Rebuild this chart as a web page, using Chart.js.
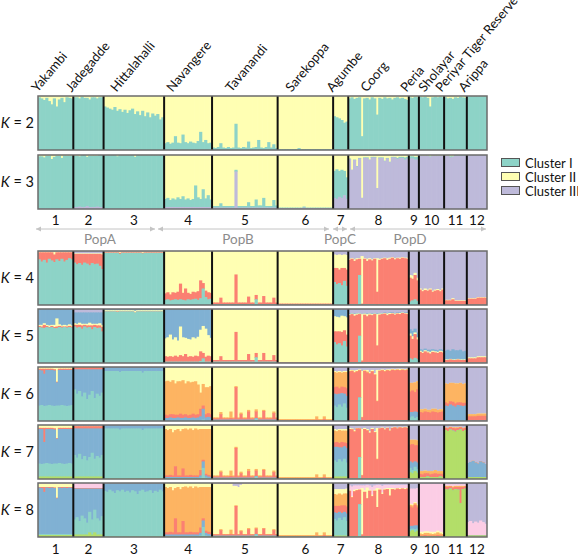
<!DOCTYPE html>
<html><head><meta charset="utf-8">
<script src="https://cdn.jsdelivr.net/npm/chart.js@4.4.1/dist/chart.umd.min.js"></script>
<style>
html,body{margin:0;padding:0;background:#fff;}
#wrap{position:relative;width:578px;height:554px;overflow:hidden;font-family:Lato,"Open Sans",sans-serif;color:#111;}
canvas.panel{position:absolute;left:37px;}
.klab{position:absolute;left:0;width:34px;text-align:right;font-size:14.5px;line-height:16px;white-space:nowrap;}
.pname{position:absolute;font-size:13px;line-height:13px;white-space:nowrap;transform-origin:0 100%;transform:rotate(-50deg);}
.num{position:absolute;font-size:13.5px;line-height:14px;transform:translateX(-50%);white-space:nowrap;}
.grp{position:absolute;font-size:13.5px;line-height:14px;color:#8c8c8c;transform:translateX(-50%);}
.lg{position:absolute;left:501px;width:17px;height:7px;border:1px solid #555;}
.lt{position:absolute;left:525px;font-size:13px;line-height:14px;white-space:nowrap;}
</style></head>
<body><div id="wrap"><svg id="arrows" width="578" height="554" style="position:absolute;left:0;top:0"></svg></div>
<script>
// ---------------- data ----------------
const popNames = ["Yakambi","Jadegadde","Hittalahalli","Navangere","Tavanandi","Sarekoppa","Agumbe","Coorg","Peria","Sholayar","Periyar Tiger Reserve","Arippa"];
const popNumbers = ["1","2","3","4","5","6","7","8","9","10","11","12"];
const popCounts = [14,12,24,19,26,22,6,24,4,10,9,8];
const groupNames = ["PopA","PopB","PopC","PopD"];
const legendNames = ["Cluster I","Cluster II","Cluster III"];
const kValues = [2,3,4,5,6,7,8];

// stack order (bottom -> top) of clusters in each K panel
const k2Order = ["I","II"];
const k3Order = ["III","I","II"];
const k4Order = ["I","IV","II","III"];
const k5Order = ["I","IV","II","V","III"];
const k6Order = ["I","V","IV","VI","II","III"];
const k7Order = ["VII","I","V","IV","VI","II","III"];
const k8Order = ["VII","I","V","IV","VI","II","VIII","III"];

// runs: per population, rows of [number of individuals, membership % in stack order]
const k2Runs = [
 [[1,97,3],[1,95,5],[1,92,8],[1,96,4],[1,90,10],[1,84,16],[1,95,5],[1,80,20],[1,93,7],[1,96,4],[1,88,12],[1,97,3],[1,96,4],[1,95,5]],
 [[2,97,3],[1,95,5],[1,98,2],[2,96,4],[1,93,7],[2,97,3],[1,95,5],[2,97,3]],
 [[1,80,20],[1,78,22],[1,76,24],[1,74,26],[1,79,21],[1,72,28],[1,75,25],[1,70,30],[1,74,26],[1,68,32],[1,73,27],[1,76,24],[1,66,34],[1,71,29],[1,64,36],[1,72,28],[1,62,38],[1,69,31],[1,60,40],[1,67,33],[1,63,37],[1,66,34],[1,56,44],[1,60,40]],
 [[1,12,88],[1,14,86],[1,11,89],[1,13,87],[1,25,75],[1,13,87],[1,12,88],[1,28,72],[1,14,86],[1,12,88],[1,15,85],[1,13,87],[1,12,88],[1,16,84],[1,33,67],[1,14,86],[1,18,82],[1,12,88],[1,13,87]],
 [[1,4,96],[1,3,97],[1,5,95],[1,12,88],[1,4,96],[1,3,97],[1,5,95],[1,3,97],[1,4,96],[1,48,52],[1,4,96],[1,3,97],[1,5,95],[1,4,96],[1,15,85],[1,3,97],[1,4,96],[1,5,95],[1,18,82],[1,4,96],[1,3,97],[1,5,95],[1,14,86],[1,4,96],[1,10,90],[1,3,97]],
 [[8,1,99],[1,3,97],[13,1,99]],
 [[1,62,38],[1,60,40],[1,58,42],[1,55,45],[1,50,50],[1,52,48]],
 [[1,95,5],[1,97,3],[1,94,6],[1,96,4],[1,97,3],[1,25,75],[1,95,5],[1,96,4],[1,93,7],[1,97,3],[1,95,5],[1,65,35],[1,96,4],[1,94,6],[1,97,3],[1,95,5],[1,96,4],[1,93,7],[1,96,4],[1,97,3],[1,95,5],[1,96,4],[1,94,6],[1,92,8]],
 [[1,97,3],[1,96,4],[1,98,2],[1,97,3]],
 [[1,98,2],[1,97,3],[1,98,2],[1,96,4],[1,80,20],[1,97,3],[1,98,2],[1,97,3],[1,98,2],[1,97,3]],
 [[1,97,3],[1,95,5],[1,96,4],[1,94,6],[1,97,3],[1,96,4],[1,98,2],[1,97,3],[1,96,4]],
 [[8,99,1]]
];
const k3Runs = [
 [[2,0,97,3],[1,0,95,5],[2,0,98,2],[1,0,92,8],[1,0,96,4],[2,0,98,2],[1,0,94,6],[4,0,98,2]],
 [[2,3,95,2],[1,4,93,3],[2,3,96,1],[1,5,91,4],[3,3,95,2],[1,4,94,2],[2,3,96,1]],
 [[5,0,99,1],[1,0,97,3],[6,0,99,1],[1,0,96,4],[11,0,99,1]],
 [[1,3,15,82],[1,3,17,80],[1,3,13,84],[1,3,16,81],[1,3,14,83],[1,3,18,79],[1,3,15,82],[1,3,20,77],[1,3,14,83],[1,3,16,81],[1,3,13,84],[1,3,15,82],[1,3,40,57],[1,3,18,79],[1,3,15,82],[1,3,33,64],[1,3,16,81],[1,3,22,75],[1,3,14,83]],
 [[3,2,3,95],[1,2,8,90],[5,2,3,95],[1,69,3,28],[4,2,3,95],[1,2,10,88],[2,2,3,95],[1,2,15,83],[2,2,4,94],[1,2,18,80],[3,2,3,95],[1,2,14,84],[1,2,4,94]],
 [[10,1,1,98],[1,2,2,96],[11,1,1,98]],
 [[1,20,50,30],[1,18,55,27],[1,22,48,30],[1,20,52,28],[1,25,45,30],[1,18,40,42]],
 [[1,92,1,7],[1,72,0,28],[1,90,1,9],[1,78,1,21],[1,93,1,6],[1,20,0,80],[2,94,1,5],[1,90,1,9],[2,95,1,4],[1,38,0,62],[2,94,1,5],[1,88,1,11],[1,93,1,6],[1,86,1,13],[2,95,1,4],[1,92,2,6],[2,94,2,4],[1,91,4,5],[1,93,3,4]],
 [[2,93,4,3],[2,91,5,4]],
 [[4,98,0,2],[1,96,1,3],[5,98,0,2]],
 [[2,98,0,2],[1,95,2,3],[1,96,1,3],[5,98,1,1]],
 [[8,99,0,1]]
];
const k4Runs = [
 [[1,84,13,1,2],[1,80,17,1,2],[1,83,14,1,2],[1,78,19,1,2],[1,85,12,1,2],[1,82,15,1,2],[1,79,14,5,2],[1,84,13,1,2],[1,81,16,1,2],[1,85,12,1,2],[1,80,17,1,2],[1,83,14,1,2],[1,86,11,1,2],[1,84,13,1,2]],
 [[1,78,16,1,5],[1,75,19,1,5],[1,77,17,1,5],[1,74,20,1,5],[1,78,16,1,5],[1,76,18,1,5],[1,73,21,1,5],[1,77,17,1,5],[1,75,19,1,5],[1,76,18,1,5],[1,72,22,1,5],[1,66,27,2,5]],
 [[6,96,1,1,2],[1,94,2,2,2],[8,96,1,1,2],[1,95,1,2,2],[8,96,1,1,2]],
 [[1,9,12,78,1],[1,10,13,76,1],[1,8,11,80,1],[1,9,14,76,1],[1,10,12,77,1],[1,9,15,75,1],[1,10,29,60,1],[1,9,13,77,1],[1,8,22,69,1],[1,10,12,77,1],[1,9,11,79,1],[1,10,14,75,1],[1,11,12,76,1],[1,9,16,74,1],[1,12,33,54,1],[1,30,10,59,1],[1,14,12,73,1],[1,10,13,76,1],[1,11,11,77,1]],
 [[3,1,3,95,1],[1,1,12,86,1],[5,1,3,95,1],[1,1,55,43,1],[4,1,3,95,1],[1,1,14,84,1],[2,1,3,95,1],[1,10,8,81,1],[2,1,3,95,1],[1,1,15,83,1],[3,1,3,95,1],[1,1,12,86,1],[1,1,3,95,1]],
 [[22,0,2,97,1]],
 [[1,42,26,25,7],[1,38,30,24,8],[1,40,25,28,7],[1,36,32,24,8],[1,44,24,25,7],[1,35,30,27,8]],
 [[1,1,82,2,15],[1,1,84,1,14],[1,1,80,3,16],[1,1,83,2,14],[1,55,30,1,14],[1,0,2,88,10],[1,1,84,1,14],[1,1,80,4,15],[1,1,83,2,14],[1,1,81,2,16],[1,1,84,1,14],[1,0,24,62,14],[1,1,82,2,15],[1,1,84,1,14],[1,1,85,1,13],[1,1,82,3,14],[1,1,84,2,13],[1,1,86,1,12],[1,1,83,2,14],[1,1,85,1,13],[1,1,84,2,13],[1,1,86,1,12],[1,1,85,1,13],[1,1,84,2,13]],
 [[1,6,44,5,45],[1,8,40,6,46],[1,10,45,4,41],[1,7,38,5,50]],
 [[1,0,28,2,70],[1,0,25,2,73],[1,0,27,3,70],[1,0,26,2,72],[1,0,28,2,70],[1,0,24,2,74],[1,0,26,2,72],[1,0,27,2,71],[1,0,25,2,73],[1,0,28,2,70]],
 [[3,0,8,1,91],[1,0,10,2,88],[5,0,7,1,92]],
 [[4,0,11,1,88],[4,0,13,1,86]]
];
const k5Runs = [
 [[1,66,2,2,29,1],[1,65,2,3,29,1],[1,64,6,3,26,1],[1,66,2,2,29,1],[1,65,1,3,30,1],[1,66,2,2,29,1],[1,64,2,4,29,1],[1,64,3,15,17,1],[1,66,2,3,28,1],[1,65,2,2,30,1],[1,66,1,3,29,1],[1,65,2,2,30,1],[1,66,2,3,28,1],[1,65,2,2,30,1]],
 [[1,67,3,3,20,7],[1,65,5,2,21,7],[1,66,4,4,19,7],[1,63,6,3,21,7],[1,67,3,2,21,7],[1,65,4,3,21,7],[1,66,3,5,19,7],[1,62,7,3,21,7],[1,66,4,2,21,7],[1,64,5,3,21,7],[1,65,4,4,20,7],[1,58,8,4,23,7]],
 [[5,95,0,2,3,0],[1,94,1,2,3,0],[6,95,0,2,3,0],[1,93,0,3,4,0],[11,95,0,2,3,0]],
 [[1,2,10,33,54,1],[1,2,9,36,52,1],[1,2,10,40,47,1],[1,2,9,32,56,1],[1,2,11,34,52,1],[1,2,9,30,58,1],[1,2,12,53,32,1],[1,2,10,35,52,1],[1,2,14,30,53,1],[1,2,9,33,55,1],[1,2,10,31,56,1],[1,2,9,36,52,1],[1,2,11,32,54,1],[1,2,10,36,51,1],[1,3,18,40,38,1],[1,8,10,50,31,1],[1,2,9,52,36,1],[1,2,11,38,48,1],[1,2,10,34,53,1]],
 [[3,2,3,94,1,0],[1,2,10,87,1,0],[5,2,3,94,1,0],[1,2,55,42,1,0],[4,2,3,94,1,0],[1,2,14,83,1,0],[2,2,3,94,1,0],[1,10,8,81,1,0],[2,2,3,94,1,0],[1,2,16,81,1,0],[3,2,3,94,1,0],[1,2,12,85,1,0],[1,2,3,94,1,0]],
 [[22,0,1,98,1,0]],
 [[1,38,20,28,12,2],[1,34,24,27,13,2],[1,36,22,26,14,2],[1,32,25,30,11,2],[1,40,20,26,12,2],[1,30,22,32,14,2]],
 [[1,1,87,2,1,9],[1,1,89,1,1,8],[1,1,86,3,1,9],[1,1,88,2,1,8],[1,50,40,1,1,8],[1,0,4,86,0,10],[1,1,88,2,1,8],[1,1,85,4,1,9],[1,1,88,2,1,8],[1,1,87,2,1,9],[1,1,89,1,1,8],[1,0,32,58,1,9],[1,1,88,2,1,8],[1,1,89,1,1,8],[1,1,90,1,1,7],[1,1,87,3,1,8],[1,1,89,2,1,7],[1,1,90,1,1,7],[1,1,88,2,1,8],[1,1,90,1,1,7],[1,1,89,2,1,7],[1,1,91,1,1,6],[1,1,90,1,1,7],[1,1,89,2,1,7]],
 [[1,8,42,4,8,38],[1,6,38,5,10,41],[1,9,44,3,7,37],[1,7,36,4,9,44]],
 [[1,0,20,2,3,75],[1,0,18,2,4,76],[1,0,21,2,3,74],[1,0,19,2,3,76],[1,0,17,3,4,76],[1,0,20,2,3,75],[1,0,19,2,3,76],[1,0,18,2,3,77],[1,0,20,2,3,75],[1,0,19,2,3,76]],
 [[1,0,5,1,16,78],[1,0,5,1,18,76],[1,0,6,1,15,78],[1,0,5,1,19,75],[1,0,5,1,17,77],[1,0,6,1,16,77],[1,0,5,1,18,76],[1,0,5,1,15,79],[1,0,5,1,16,78]],
 [[4,0,8,2,0,90],[4,0,10,2,0,88]]
];
const k6Runs = [
 [[1,28,66,2,0,4,0],[1,29,64,3,0,4,0],[1,27,60,9,0,4,0],[1,28,66,2,0,4,0],[1,29,65,2,0,4,0],[1,28,66,2,0,4,0],[1,27,66,2,0,5,0],[1,28,43,1,0,28,0],[1,28,66,2,0,4,0],[1,29,65,2,0,4,0],[1,28,66,2,0,4,0],[1,27,67,2,0,4,0],[1,28,66,2,0,4,0],[1,29,65,2,0,4,0]],
 [[1,58,37,3,2,0,0],[1,50,45,3,2,0,0],[1,55,40,3,2,0,0],[1,45,50,3,2,0,0],[1,52,43,3,2,0,0],[1,40,55,3,2,0,0],[1,48,47,3,2,0,0],[1,55,40,3,2,0,0],[1,42,53,3,2,0,0],[1,50,45,3,2,0,0],[1,46,49,3,2,0,0],[1,52,43,3,2,0,0]],
 [[6,92,7,0,0,0,1],[1,90,9,0,0,0,1],[8,92,7,0,0,0,1],[1,89,10,0,0,0,1],[8,92,7,0,0,0,1]],
 [[1,0,5,6,62,27,0],[1,0,5,5,64,26,0],[1,0,6,6,60,28,0],[1,0,5,7,63,25,0],[1,0,5,6,58,31,0],[1,0,6,5,62,27,0],[1,0,5,8,60,27,0],[1,0,5,6,64,25,0],[1,0,6,6,57,31,0],[1,0,5,5,63,27,0],[1,0,5,6,60,29,0],[1,0,6,7,59,28,0],[1,0,5,6,62,27,0],[1,0,6,6,55,33,0],[1,0,8,14,30,48,0],[1,2,20,6,40,32,0],[1,0,6,6,50,38,0],[1,0,7,7,48,38,0],[1,0,6,6,52,36,0]],
 [[3,1,1,2,2,94,0],[1,1,1,10,4,84,0],[3,1,1,2,2,94,0],[1,1,1,3,12,83,0],[1,1,1,2,2,94,0],[1,1,1,60,2,36,0],[1,1,1,2,2,94,0],[1,1,1,10,3,85,0],[2,1,1,2,2,94,0],[1,1,1,15,3,80,0],[2,1,1,2,2,94,0],[1,4,1,12,4,79,0],[2,1,1,2,2,94,0],[1,1,1,16,2,80,0],[3,1,1,2,2,94,0],[1,1,1,12,3,83,0],[1,1,1,2,2,94,0]],
 [[15,0,0,1,2,97,0],[1,0,0,2,6,92,0],[2,0,0,1,2,97,0],[1,0,0,3,5,92,0],[3,0,0,1,2,97,0]],
 [[1,28,22,12,28,2,8],[1,25,24,14,26,2,9],[1,30,20,10,30,2,8],[1,26,25,12,26,2,9],[1,32,18,12,28,2,8],[1,24,22,14,30,2,8]],
 [[1,1,0,90,1,2,6],[1,1,0,91,1,1,6],[1,1,0,88,1,3,7],[1,1,0,90,1,2,6],[1,43,0,50,1,1,5],[1,0,0,6,1,85,8],[1,1,0,91,1,1,6],[1,1,0,88,2,3,6],[1,1,0,86,1,2,10],[1,1,0,90,1,2,6],[1,1,0,84,1,2,12],[1,0,0,36,1,57,6],[1,1,0,91,1,1,6],[1,1,0,92,1,1,5],[1,1,0,90,1,2,6],[1,1,0,92,1,1,5],[1,1,0,91,1,2,5],[1,1,0,93,1,1,4],[1,1,0,92,1,1,5],[1,1,0,93,1,1,4],[1,1,0,92,1,2,4],[1,1,0,93,1,1,4],[1,1,0,92,1,1,5],[1,1,0,93,1,1,4]],
 [[1,6,10,38,16,0,30],[1,8,8,40,14,0,30],[1,5,12,36,18,0,29],[1,7,9,42,15,0,27]],
 [[1,0,0,16,5,0,79],[1,0,0,15,6,0,79],[1,0,0,17,5,0,78],[1,0,0,16,4,0,80],[1,0,0,15,5,0,80],[1,0,0,17,5,0,78],[1,0,0,16,6,0,78],[1,0,0,15,5,0,80],[1,0,0,16,5,0,79],[1,0,0,17,4,0,79]],
 [[1,0,28,6,35,0,31],[1,0,27,5,36,0,32],[1,0,30,6,34,0,30],[1,0,28,7,35,0,30],[1,0,26,6,37,0,31],[1,0,29,5,35,0,31],[1,0,28,6,36,0,30],[1,0,27,6,35,0,32],[1,0,28,5,36,0,31]],
 [[4,0,0,8,4,0,88],[4,0,0,9,4,0,87]]
];
const k7Runs = [
 [[1,4,24,64,2,0,6,0],[1,4,23,65,2,0,6,0],[1,4,24,40,26,0,6,0],[1,4,25,63,2,0,6,0],[1,4,24,64,2,0,6,0],[1,4,23,65,2,0,6,0],[1,4,24,63,2,0,7,0],[1,4,24,46,1,0,25,0],[1,4,25,63,2,0,6,0],[1,4,24,64,2,0,6,0],[1,4,23,65,2,0,6,0],[1,4,24,64,2,0,6,0],[1,4,25,63,2,0,6,0],[1,4,24,64,2,0,6,0]],
 [[1,4,40,49,4,0,0,3],[1,4,35,54,4,0,0,3],[1,4,42,47,4,0,0,3],[1,4,32,57,4,0,0,3],[1,4,38,51,4,0,0,3],[1,4,30,59,4,0,0,3],[1,4,36,53,4,0,0,3],[1,4,44,45,4,0,0,3],[1,4,33,56,4,0,0,3],[1,4,38,51,4,0,0,3],[1,4,35,54,4,0,0,3],[1,4,40,49,4,0,0,3]],
 [[6,0,93,6,0,0,0,1],[1,0,91,8,0,0,0,1],[8,0,93,6,0,0,0,1],[1,0,90,9,0,0,0,1],[8,0,93,6,0,0,0,1]],
 [[1,0,1,2,3,86,8,0],[1,0,1,2,3,84,10,0],[1,0,1,2,4,85,8,0],[1,0,1,2,3,80,14,0],[1,0,1,2,20,67,10,0],[1,0,1,2,3,86,8,0],[1,0,1,2,3,82,12,0],[1,0,1,2,16,73,8,0],[1,0,1,2,3,87,7,0],[1,0,1,2,3,85,9,0],[1,0,1,2,4,86,7,0],[1,0,1,2,3,84,10,0],[1,0,1,2,3,87,7,0],[1,0,1,2,3,85,9,0],[1,0,2,4,10,76,8,0],[1,0,20,12,3,57,8,0],[1,0,2,4,3,83,8,0],[1,0,1,3,3,85,8,0],[1,0,1,2,3,86,8,0]],
 [[3,0,1,1,2,2,94,0],[1,0,1,1,10,3,85,0],[3,0,1,1,2,2,94,0],[1,0,1,1,3,10,85,0],[1,0,1,1,2,2,94,0],[1,0,1,1,55,2,41,0],[1,0,1,1,2,2,94,0],[1,0,1,1,8,3,87,0],[2,0,1,1,2,2,94,0],[1,0,1,1,12,4,82,0],[2,0,1,1,2,2,94,0],[1,0,4,1,10,3,82,0],[2,0,1,1,2,2,94,0],[1,0,1,1,14,2,82,0],[3,0,1,1,2,2,94,0],[1,0,1,1,10,3,85,0],[1,0,1,1,2,2,94,0]],
 [[15,0,0,0,1,2,97,0],[1,0,0,0,2,6,92,0],[2,0,0,0,1,2,97,0],[1,0,0,0,3,5,92,0],[3,0,0,0,1,2,97,0]],
 [[1,4,30,25,8,22,3,8],[1,4,27,28,9,20,3,9],[1,4,32,22,8,24,2,8],[1,4,28,26,10,21,3,8],[1,4,33,23,7,22,3,8],[1,4,26,27,9,23,3,8]],
 [[1,0,1,0,91,0,2,6],[1,0,1,0,90,1,1,7],[1,0,1,0,86,1,2,10],[1,0,1,0,92,0,1,6],[1,0,40,0,53,0,1,6],[1,0,0,0,6,1,85,8],[1,0,1,0,91,0,2,6],[1,0,1,0,88,1,2,8],[1,0,1,0,84,0,3,12],[1,0,1,0,91,0,2,6],[1,0,1,0,85,0,2,12],[1,0,0,0,36,1,57,6],[1,0,1,0,92,0,1,6],[1,0,1,0,93,0,1,5],[1,0,1,0,90,0,2,7],[1,0,1,0,93,0,1,5],[1,0,1,0,88,0,2,9],[1,0,1,0,93,0,1,5],[1,0,1,0,94,0,1,4],[1,0,1,0,92,0,1,6],[1,0,1,0,94,0,1,4],[1,0,1,0,93,0,1,5],[1,0,1,0,94,0,1,4],[1,0,1,0,93,0,2,4]],
 [[1,12,8,12,31,9,0,28],[1,10,6,14,34,8,0,28],[1,14,8,10,30,10,0,28],[1,11,7,12,32,9,0,29]],
 [[1,3,0,0,6,5,0,86],[1,3,0,0,5,6,0,86],[1,3,0,0,7,5,0,85],[1,4,0,0,6,4,0,86],[1,3,0,0,5,6,0,86],[1,3,0,0,6,5,0,86],[1,3,0,0,7,6,0,84],[1,3,0,0,6,5,0,86],[1,4,0,0,5,5,0,86],[1,3,0,0,6,5,0,86]],
 [[1,90,0,0,4,1,0,5],[1,88,0,0,5,1,0,6],[1,91,0,0,4,1,0,4],[1,89,0,0,5,1,0,5],[1,87,0,0,6,2,0,5],[1,90,0,0,4,1,0,5],[1,91,0,0,4,1,0,4],[1,88,0,0,5,1,0,6],[1,90,0,0,4,1,0,5]],
 [[1,3,0,26,0,0,0,71],[1,3,0,28,0,0,0,69],[1,3,0,30,0,0,0,67],[1,3,0,27,0,0,0,70],[1,3,0,25,0,0,0,72],[1,3,0,29,0,0,0,68],[1,3,0,27,0,0,0,70],[1,3,0,24,0,0,0,73]]
];
const k8Runs = [
 [[1,3,2,86,1,0,6,2,0],[1,3,2,85,2,0,6,2,0],[1,3,2,78,9,0,6,2,0],[1,3,2,86,1,0,6,2,0],[1,3,2,85,2,0,6,2,0],[1,3,2,86,1,0,6,2,0],[1,3,2,85,1,0,7,2,0],[1,3,2,66,1,0,26,2,0],[1,3,2,86,1,0,6,2,0],[1,3,2,85,2,0,6,2,0],[1,3,2,86,1,0,6,2,0],[1,3,2,85,2,0,6,2,0],[1,3,2,86,1,0,6,2,0],[1,3,2,85,2,0,6,2,0]],
 [[1,4,28,57,1,0,0,10,0],[1,4,32,53,1,0,0,10,0],[1,4,25,60,1,0,0,10,0],[1,4,35,50,1,0,0,10,0],[1,4,30,55,1,0,0,10,0],[1,4,22,63,1,0,0,10,0],[1,8,38,43,1,0,0,10,0],[1,4,28,57,1,0,0,10,0],[1,8,42,39,1,0,0,10,0],[1,4,30,55,1,0,0,10,0],[1,4,26,59,1,0,0,10,0],[1,4,34,51,1,0,0,10,0]],
 [[1,0,85,14,0,0,0,0,1],[1,0,83,16,0,0,0,0,1],[1,0,87,12,0,0,0,0,1],[1,0,84,15,0,0,0,0,1],[1,0,81,18,0,0,0,0,1],[1,0,86,13,0,0,0,0,1],[1,0,84,15,0,0,0,0,1],[1,0,87,12,0,0,0,0,1],[1,0,83,16,0,0,0,0,1],[1,0,85,14,0,0,0,0,1],[1,0,82,17,0,0,0,0,1],[1,0,86,13,0,0,0,0,1],[1,0,84,15,0,0,0,0,1],[1,0,79,20,0,0,0,0,1],[1,0,85,14,0,0,0,0,1],[1,0,87,12,0,0,0,0,1],[1,0,83,16,0,0,0,0,1],[1,0,84,15,0,0,0,0,1],[1,0,86,13,0,0,0,0,1],[1,0,81,18,0,0,0,0,1],[1,0,85,14,0,0,0,0,1],[1,0,83,16,0,0,0,0,1],[1,0,87,12,0,0,0,0,1],[1,0,84,15,0,0,0,0,1]],
 [[1,0,1,3,4,84,8,0,0],[1,0,1,3,4,82,10,0,0],[1,0,1,3,5,83,8,0,0],[1,0,1,3,4,78,14,0,0],[1,0,1,3,30,56,10,0,0],[1,0,1,3,4,84,8,0,0],[1,0,1,3,4,80,12,0,0],[1,0,1,3,25,63,8,0,0],[1,0,1,3,4,85,7,0,0],[1,0,1,3,4,83,9,0,0],[1,0,1,3,5,84,7,0,0],[1,0,1,3,4,82,10,0,0],[1,0,1,3,4,85,7,0,0],[1,0,1,3,4,83,9,0,0],[1,0,2,5,10,75,8,0,0],[1,0,18,12,4,58,8,0,0],[1,0,2,5,4,81,8,0,0],[1,0,1,4,4,83,8,0,0],[1,0,1,3,4,84,8,0,0]],
 [[3,0,1,1,2,1,93,0,2],[1,0,1,1,10,2,84,0,2],[3,0,1,1,2,1,93,0,2],[1,0,1,1,3,8,85,0,2],[1,0,1,1,2,1,89,0,6],[1,0,1,1,55,1,36,0,6],[1,0,1,1,2,1,87,0,8],[1,0,1,1,8,2,84,0,4],[2,0,1,1,2,1,93,0,2],[1,0,1,1,12,2,82,0,2],[2,0,1,1,2,1,93,0,2],[1,0,4,1,10,2,81,0,2],[2,0,1,1,2,1,93,0,2],[1,0,1,1,13,1,82,0,2],[3,0,1,1,2,1,93,0,2],[1,0,1,1,10,2,84,0,2],[1,0,1,1,2,1,93,0,2]],
 [[15,0,0,0,1,2,97,0,0],[1,0,0,0,2,6,92,0,0],[2,0,0,0,1,2,97,0,0],[1,0,0,0,3,5,92,0,0],[3,0,0,0,1,2,97,0,0]],
 [[1,2,31,12,12,22,9,0,12],[1,2,28,14,13,21,10,0,12],[1,2,33,11,11,23,8,0,12],[1,2,29,13,14,20,10,0,12],[1,2,34,10,12,22,8,0,12],[1,2,27,14,13,24,9,0,11]],
 [[1,0,1,0,84,0,2,8,5],[1,0,1,0,72,0,2,18,7],[1,0,1,0,83,0,3,8,5],[1,0,1,0,85,0,2,7,5],[1,0,60,0,27,0,1,7,5],[1,0,0,0,4,0,86,5,5],[1,0,1,0,82,0,3,9,5],[1,0,1,0,70,0,20,5,4],[1,0,1,0,84,0,2,8,5],[1,0,1,0,74,0,3,14,8],[1,0,1,0,84,0,2,8,5],[1,0,0,0,55,0,35,6,4],[1,0,1,0,86,0,2,7,4],[1,0,1,0,78,0,3,12,6],[1,0,1,0,86,0,2,7,4],[1,0,1,0,87,0,2,6,4],[1,0,1,0,75,0,14,6,4],[1,0,1,0,87,0,2,6,4],[1,0,1,0,86,0,2,7,4],[1,0,1,0,88,0,1,6,4],[1,0,1,0,87,0,2,6,4],[1,0,1,0,88,0,1,6,4],[1,0,1,0,87,0,2,6,4],[1,0,1,0,88,0,1,6,4]],
 [[1,10,4,6,36,3,2,28,11],[1,12,3,5,34,4,2,29,11],[1,9,5,7,38,3,2,25,11],[1,11,4,6,33,4,2,30,10]],
 [[1,1,0,0,1,4,3,89,2],[1,1,0,0,1,3,4,89,2],[1,1,0,0,2,4,3,88,2],[1,1,0,0,1,5,3,88,2],[1,1,0,0,1,4,3,89,2],[1,1,0,0,1,3,4,89,2],[1,1,0,0,1,4,3,89,2],[1,1,0,0,2,5,3,87,2],[1,1,0,0,1,4,3,89,2],[1,1,0,0,1,3,3,90,2]],
 [[1,88,0,0,4,2,0,3,3],[1,87,0,0,5,2,0,3,3],[1,89,0,0,4,1,0,3,3],[1,86,0,0,5,2,0,4,3],[1,88,0,0,4,2,0,3,3],[1,87,0,0,5,2,0,3,3],[1,62,0,0,30,2,0,3,3],[1,88,0,0,4,2,0,3,3],[1,89,0,0,4,1,0,3,3]],
 [[1,2,0,0,0,1,0,24,73],[1,2,0,0,0,1,0,26,71],[1,2,0,0,0,1,0,22,75],[1,2,0,0,0,1,0,25,72],[1,2,0,0,0,1,0,23,74],[1,2,0,0,0,1,0,27,70],[1,2,0,0,0,1,0,24,73],[1,2,0,0,0,1,0,21,76]]
];

// ---------------- styles ----------------
const clusterColors = {I:"#8dd3c7",II:"#ffffb3",III:"#bebada",IV:"#fb8072",V:"#80b1d3",VI:"#fdb462",VII:"#b3de69",VIII:"#fccde5"};
const panelTops = [96,155,251,309,367,425,483];
const panelH = 54, plotLeft = 38, plotW = 449;

const allRuns = [k2Runs,k3Runs,k4Runs,k5Runs,k6Runs,k7Runs,k8Runs];
const allOrders = [k2Order,k3Order,k4Order,k5Order,k6Order,k7Order,k8Order];
const nInd = popCounts.reduce((a,b)=>a+b,0);
const labels = Array.from({length:nInd},(_,i)=>String(i+1));

function expand(runs){
  const rows=[];
  runs.forEach((pop,p)=>{
    let c=0;
    pop.forEach(r=>{for(let i=0;i<r[0];i++) rows.push(r.slice(1)); c+=r[0];});
    if(c!==popCounts[p]) console.warn("population",p,"has",c);
  });
  return rows;
}

const framePlugin = {
  id:"frame",
  afterDatasetsDraw(chart){
    const {ctx, chartArea:a} = chart; const x = chart.scales.x;
    ctx.save();
    ctx.strokeStyle="#111"; ctx.lineWidth=2;
    let cum=0;
    for(let p=0;p<popCounts.length-1;p++){
      cum+=popCounts[p];
      const px=(x.getPixelForValue(cum-1)+x.getPixelForValue(cum))/2;
      ctx.beginPath(); ctx.moveTo(px,a.top); ctx.lineTo(px,a.bottom); ctx.stroke();
    }
    ctx.strokeStyle="#6b6b6b"; ctx.lineWidth=1.5;
    ctx.strokeRect(a.left,a.top,a.width,a.height);
    ctx.restore();
  }
};

const wrap=document.getElementById("wrap");
const charts=[];
kValues.forEach((k,ki)=>{
  const cv=document.createElement("canvas");
  cv.className="panel"; cv.width=plotW+2; cv.height=panelH+2;
  cv.style.top=(panelTops[ki]-1)+"px"; cv.style.width=(plotW+2)+"px"; cv.style.height=(panelH+2)+"px";
  wrap.appendChild(cv);
  const rows=expand(allRuns[ki]);
  const order=allOrders[ki];
  const datasets=order.map((cl,ci)=>({
    label:"Cluster "+cl, data:rows.map(r=>r[ci]),
    backgroundColor:clusterColors[cl], borderWidth:0,
    barPercentage:1, categoryPercentage:1, stack:"q"
  }));
  charts.push(new Chart(cv,{
    type:"bar", data:{labels, datasets},
    options:{responsive:false, animation:false, devicePixelRatio:1,
      layout:{padding:1},
      plugins:{legend:{display:false}, tooltip:{enabled:false}},
      scales:{x:{stacked:true, display:false}, y:{stacked:true, display:false, min:0, max:100}}},
    plugins:[framePlugin]
  }));
  const kl=document.createElement("div"); kl.className="klab";
  kl.innerHTML="<i>K</i> = "+k; kl.style.top=(panelTops[ki]+panelH/2-8)+"px";
  wrap.appendChild(kl);
});

// population names (rotated), anchored at start position
const nameX=[39,73,118,174,233,293,334,368,408,426,443,466];
popNames.forEach((n,i)=>{
  const d=document.createElement("div"); d.className="pname"; d.textContent=n;
  d.style.left=nameX[i]+"px"; d.style.top=(94-13)+"px"; wrap.appendChild(d);
});

// population numbers under K=3 and K=8, from the chart scale
function popCenters(ch){
  const x=ch.scales.x; const res=[]; let s=0;
  popCounts.forEach(c=>{res.push(plotLeft-1+(x.getPixelForValue(s)+x.getPixelForValue(s+c-1))/2); s+=c;});
  return res;
}
const centers=popCenters(charts[1]);
[213,542].forEach(y=>{
  popNumbers.forEach((t,i)=>{
    const d=document.createElement("div"); d.className="num"; d.textContent=t;
    d.style.left=centers[i]+"px"; d.style.top=y+"px"; wrap.appendChild(d);
  });
});

// group arrows
const grpSpans=[[36,155],[158,329],[333,347],[350,486]];
const grpLabelX=[100,238,340,410];
const svg=document.getElementById("arrows");
let s="";
grpSpans.forEach(([a,b])=>{
  s+=`<line x1="${a}" y1="229" x2="${b}" y2="229" stroke="#c4c4c4" stroke-width="1"/>`;
  s+=`<polygon points="${a},229 ${a+5},226.5 ${a+5},231.5" fill="#c4c4c4"/>`;
  s+=`<polygon points="${b},229 ${b-5},226.5 ${b-5},231.5" fill="#c4c4c4"/>`;
});
svg.innerHTML=s;
groupNames.forEach((g,i)=>{
  const d=document.createElement("div"); d.className="grp"; d.textContent=g;
  d.style.left=grpLabelX[i]+"px"; d.style.top="232px"; wrap.appendChild(d);
});

// legend
const legTops=[158,172,186];
legendNames.forEach((n,i)=>{
  const b=document.createElement("div"); b.className="lg";
  b.style.top=legTops[i]+"px"; b.style.background=clusterColors[["I","II","III"][i]]; wrap.appendChild(b);
  const t=document.createElement("div"); t.className="lt"; t.textContent=n;
  t.style.top=(legTops[i]-2.5)+"px"; wrap.appendChild(t);
});
</script>
</body></html>
